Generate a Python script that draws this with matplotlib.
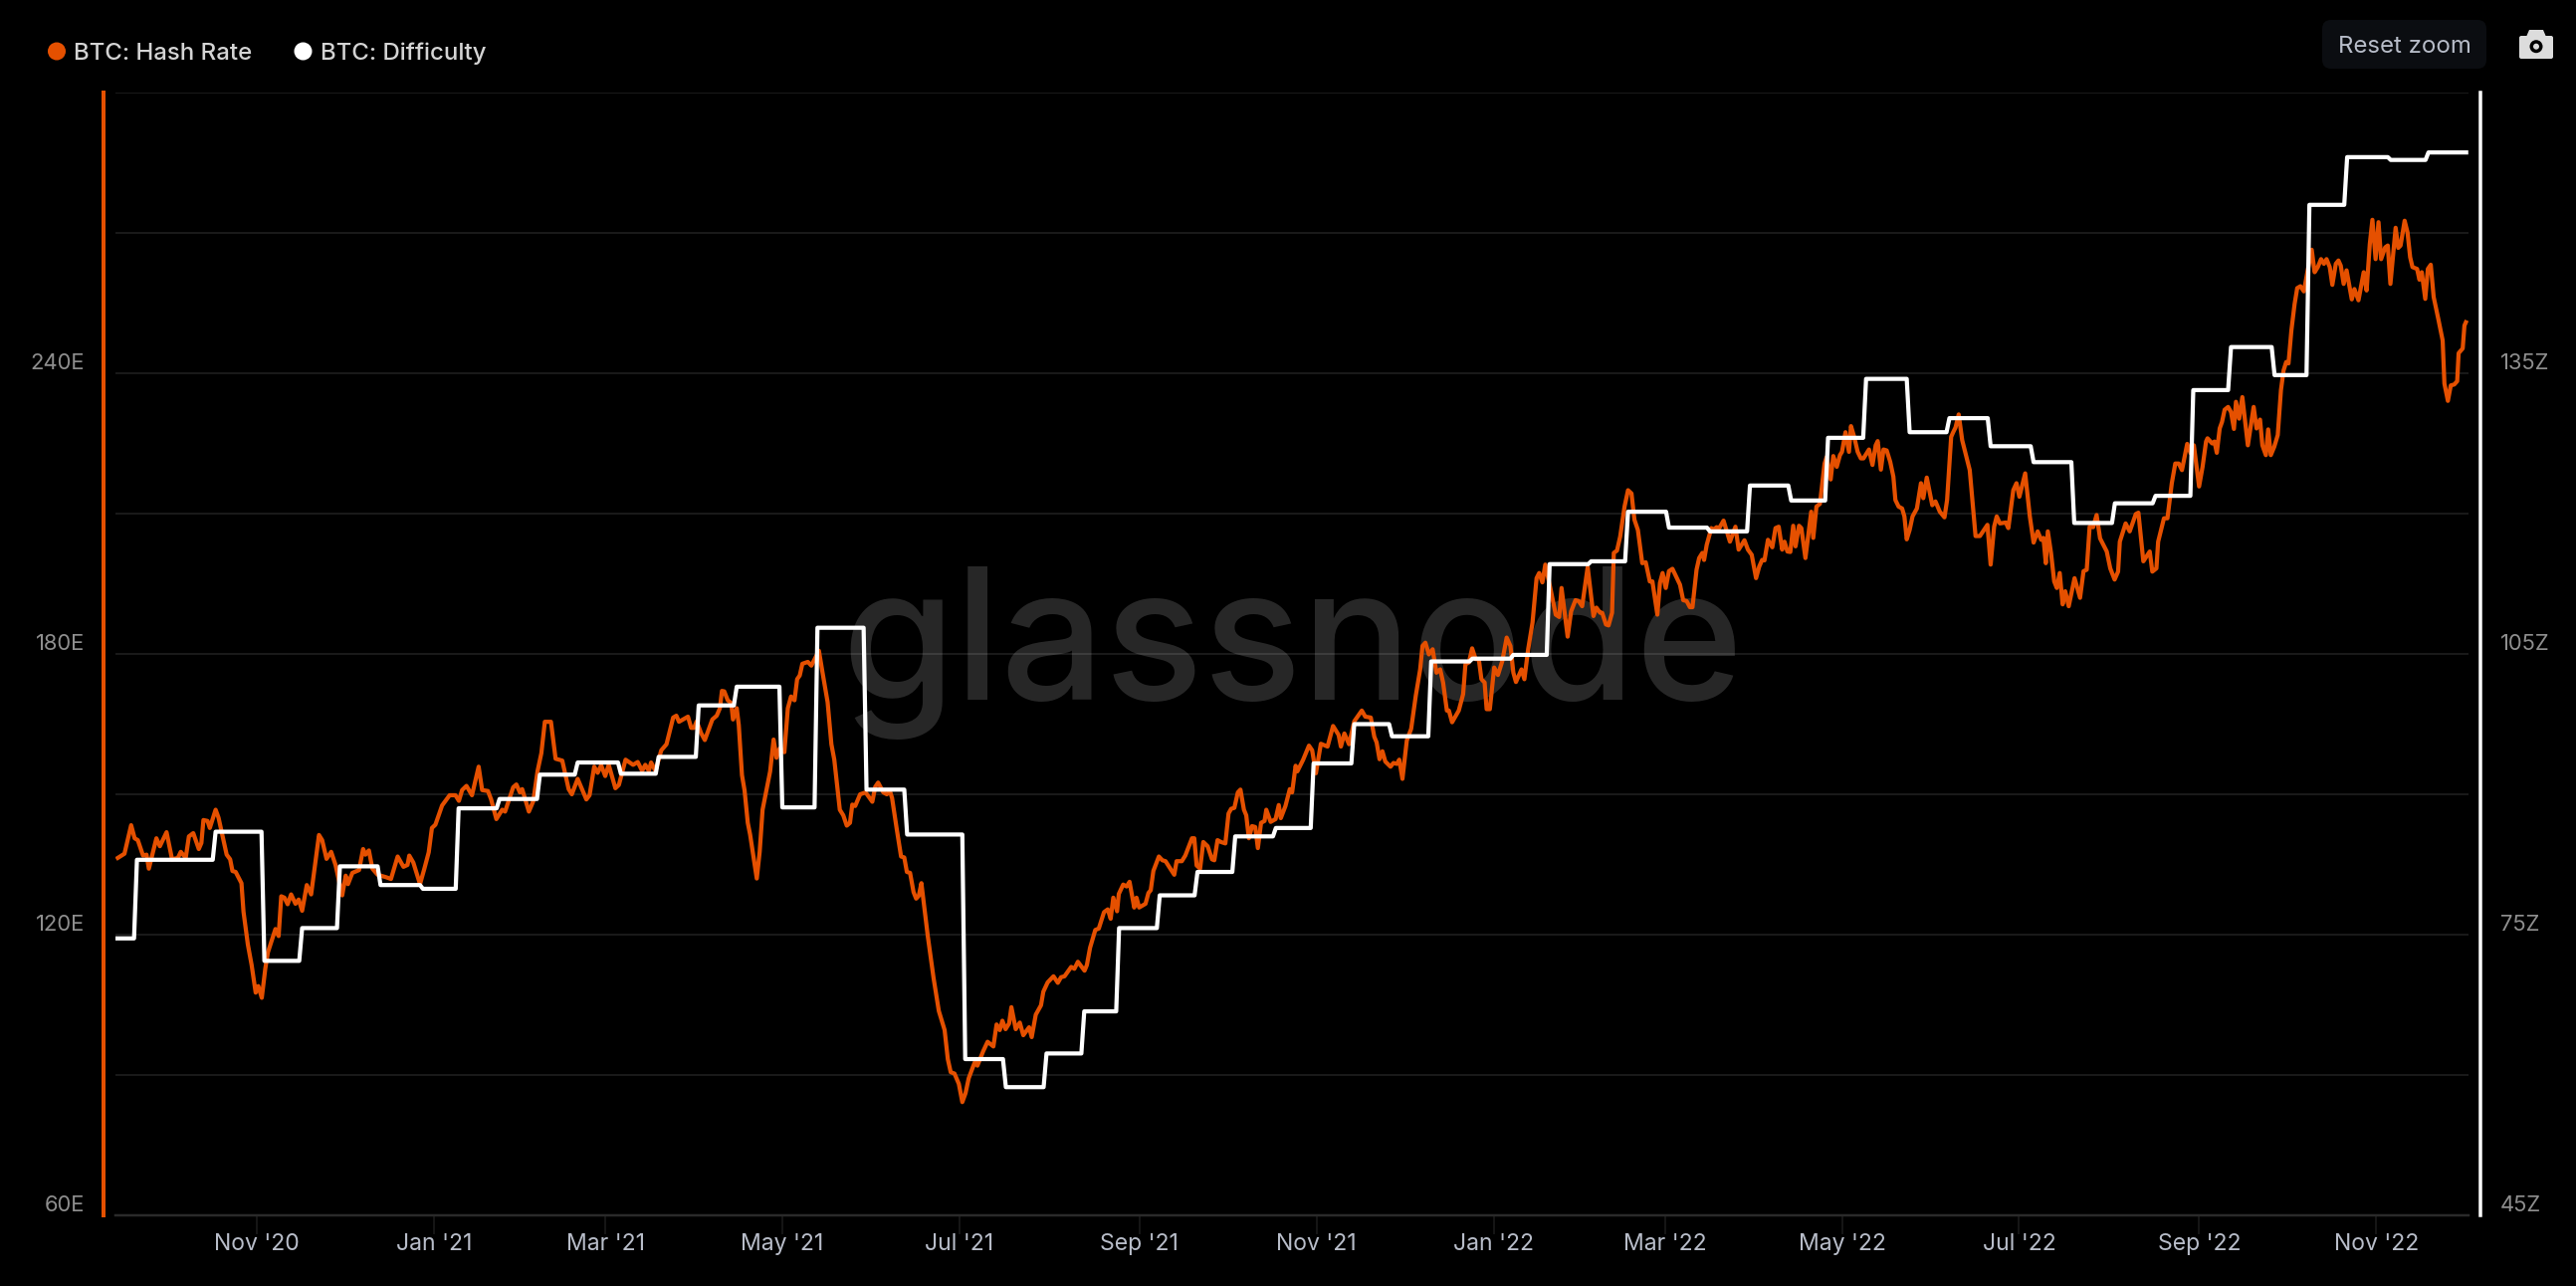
import matplotlib
matplotlib.use('Agg')
import matplotlib.pyplot as plt
import matplotlib.dates as mdates
from matplotlib.patches import Circle, FancyBboxPatch, Polygon
import pandas as pd

plt.rcParams['font.family'] = ['Inter', 'DejaVu Sans']

START = pd.Timestamp('2020-09-14')

# Hash rate, days since START and exahash
hash_days = [
    0.1, 2.4, 4.7, 5.9, 7, 8.8, 10, 10.8, 13.4, 14.6, 16.9, 18.8, 20.8, 21.8, 23.5, 24.6, 26.1, 28, 28.9, 29.6,
    31, 31.8, 33.8, 34.8, 37.6, 38.8, 39.6, 40.7, 42.7, 43.4, 44.9, 46.2, 47.6, 48.5, 49.7, 50.9, 51.8, 54.4, 55.5, 56.4,
    57.5, 58.6, 59.8, 61.3, 62.4, 63.6, 65.2, 66.7, 69.4, 70.5, 72, 73.6, 75.1, 77.4, 78.6, 79.4, 80.9, 83.2, 84.6, 85.4,
    86.6, 87.8, 89.6, 92.4, 94.2, 96.5, 98.5, 99.9, 100.5, 101.9, 104.2, 105.7, 107.2, 108.3, 109.5, 111.8, 114.4, 116.4, 117.6, 118.7,
    120.2, 122.1, 124.4, 125.6, 127.6, 128.7, 130.5, 132.5, 133.5, 136.3, 137.4, 138.6, 139.4, 141.7, 143.2, 144.7, 146, 147.2, 149.3, 150.9,
    153.2, 155.4, 156.5, 158.5, 161.5, 162.6, 164.2, 165.4, 166.6, 168, 169.2, 171.5, 172.7, 175, 177.6, 179.2, 180.7, 181.8, 183, 183.8,
    185.3, 187.3, 189.1, 191.4, 192.5, 193.4, 196.5, 197.6, 198.6,
    199.5, 201, 202.3, 204.9, 206.4, 207.5, 208.2, 209, 210.2, 211.4, 212, 213.3, 214, 215.1, 216, 217.1, 217.9, 220.2, 221.2, 222.2,
    224.8, 226, 227, 228.1, 229.7, 230.9, 232, 233.2, 234.1, 235, 235.9, 237.8, 239, 241.6, 242.8, 244.6, 245.9, 246.9, 248.8, 250,
    251.2, 252.3, 253.1, 254.1, 255.8, 257.7, 260, 261, 262, 263.8, 265, 266, 266.8, 268.4, 269.9, 271, 271.9, 273, 274.2, 275.1,
    276, 276.9, 279.1, 281.1, 282.9, 284.9, 286, 287, 288.3, 289.8, 291, 292.1, 293.2, 294.7, 295.5, 296.2, 298.2, 299.7, 301.7, 302.8,
    303.9, 304.8, 305.9, 307.1, 307.9, 309.4, 310.8, 312, 314, 314.9, 316.3, 318.1, 318.9, 320.4, 322.4, 323.9, 325, 326.2, 328.5, 329.6,
    330.8, 333.1, 333.9, 335, 336.8, 338, 339.8, 341.1, 342.1, 343, 344.3, 344.9, 346.4, 347.6, 348.6, 350.2, 351, 351.9, 354.1, 355.1,
    355.9, 356.8, 358.7, 359.9, 361, 364, 364.8, 366.6, 367.8, 370.1, 370.9, 371.7, 372.9, 374, 375.5, 377, 377.8, 378.9, 380.1, 381.6,
    382.7, 383.6, 384.7, 385.9, 386.8, 388, 388.8, 389.7, 390.8, 391.9, 392.8, 393.9, 395.1, 395.7, 397.2, 398.9, 400, 400.7, 402.3, 403.8,
    404.6, 405.8, 406.4, 408.4, 410.4, 411.5, 412.8, 414.5, 416.8, 418.7, 420.6, 421.4, 422.6, 424.2, 426, 428.6, 429.8, 431.7, 432.9, 433.7,
    434.7, 435.7, 436.7, 438.5,
    439.5, 440.7, 441.5, 442.6, 444.1, 445.6, 447.2, 448.7, 449.5, 450.5, 451.7, 453, 454.3, 455.6, 456.6, 457.9, 458.6, 459.7, 462, 463.5,
    464.3, 465.5, 466.6, 467.8, 468.9, 469.8, 470.9, 471.6, 472.7, 474.2, 475.5, 477, 478.5, 479.8, 480.8, 481.7, 483.6, 484.6, 485.9, 487.4,
    488.8, 489.7, 490.8, 491.8, 493.4, 495.4, 496.6, 497.4, 499.5, 500.7, 502.2, 503.3, 504.5, 506.4, 508.4, 509.4, 510.7, 511.4, 512.7, 513.6,
    514.8, 515.4, 516.5, 517.6, 519.1, 520.3, 521.5, 522.5, 523.7, 525.2, 526.4, 527.8, 528.7, 530.4, 531.3, 532.2, 533.3, 534.4, 535.6, 538.2,
    539.3, 540.5, 541.6, 542.5, 543.9, 544.8, 545.9, 546.5, 547.4, 549, 549.7, 550.8, 551.7, 553.2, 555.4, 557.3, 558.4, 560.4, 561.6, 562.9,
    564.4, 565.5, 566.5, 567.3, 568.5, 570, 571.1, 572.2, 573.4, 574.2, 575.2, 576.2, 577.2, 578, 579.2, 580, 581.4, 583.4, 584.1, 585.2,
    586.4, 588, 588.7, 590.1, 591, 592.2, 593.3, 594, 595.2, 596.4, 597.1, 598.2, 599.4, 600.5, 601.4, 603.3, 604.5, 605.6, 606.3, 607.4,
    608.3, 609.4, 610.6, 611.7, 612.4, 613.5, 614.7, 615.5, 616.3, 617.3, 618.3, 619.8, 621.2, 622, 623.2, 625.1, 626.2, 627.7, 629.3, 630.2,
    631.6, 632.3, 633.1, 634.2, 635.4, 638, 640, 641.5, 644.1, 645.2, 646.4, 647.3, 648.4, 650.4, 651.3, 653, 654.1, 655.1, 657.1, 658.7,
    660, 661.4, 662.6, 663.4, 664.2, 664.9, 666, 667.1, 668, 669, 670, 670.9, 672.1, 674.1, 676, 677.2, 678.3, 679.3,
    680.5, 681.7, 682.9, 685.2, 686.4, 687.9, 689.1, 689.7, 691.7, 693.1, 695.2, 696.1, 697.8, 700, 700.9, 702.3, 702.9, 704.9, 706.1, 707.6,
    708.8, 710, 711.1, 712.9, 714.1, 715.2, 717, 718.2, 719.4, 719.9, 721.5, 722.3, 723.1, 724.1, 724.9, 725.8, 727, 728, 729, 729.7,
    730.8, 731.9, 733.8, 735.8, 736.8, 738, 738.8, 740, 740.8, 741.7, 742.9, 744.1, 745.2, 746.1, 747, 747.8, 748.8, 749.9, 750.8, 751.9,
    753.1, 754.4, 755.8, 756.8, 757.9, 759, 760, 760.9, 762, 762.9, 764.1, 765, 765.8, 766.8, 767.8, 769.6, 770.5, 771.9, 773.7, 774.7,
    775.8, 776.7, 777.8, 778.8, 779.7, 781.1, 782, 782.9, 784.7, 785.6, 786.4, 787.8, 788.8, 789.7, 790.5, 792.1, 792.9, 793.7, 794.9, 795.8,
    796.8, 797.8, 799.4, 800.9, 801.5, 802.7, 803.7, 804.9, 805.9, 806.4, 807.8, 808.4, 808.9,
]
hash_values = [
    136.4, 137.3, 143.4, 140.6, 140.2, 136.9, 137.1, 134.1, 140.6, 138.9, 141.9, 136.1, 136.4, 137.7, 136.4, 141, 141.7, 138.3, 139.6, 144.5,
    144.3, 142.8, 146.7, 145, 137.1, 136.1, 133.6, 133.4, 131, 124.9, 117.9, 113.5, 107.6, 109, 106.5, 112.7, 116.2, 121.2, 119.7, 128.2,
    127.9, 126.5, 128.6, 126.6, 127.5, 125.1, 130.6, 128.6, 141.3, 140.2, 136.2, 137.7, 134.9, 128.4, 132.6, 130.8, 133.2, 133.8, 138.3, 137.1,
    138, 134.1, 132.8, 132.3, 131.9, 136.7, 134.5, 134.9, 136.9, 135.4, 130.8, 134.1, 137.6, 142.8, 143.5, 147.6, 149.8, 149.8, 148.6, 150.9,
    151.8, 149.8, 155.9, 150.9, 150.7, 148.9, 144.7, 146.7, 146.3, 151.5, 152.1, 150.4, 151.1, 146.3, 148.5, 155, 158.8, 165.5, 165.5, 157.6,
    157.2, 151.1, 150, 153.3, 148.9, 149.8, 155.9, 154.6, 156.2, 153.9, 156.3, 151.3, 152, 157.4, 156.3, 156.9, 155, 156.3, 155, 156.8,
    155, 159.4, 160.7, 166.4, 166.8, 165.5, 166.6, 164.2, 164.2,
    165.6, 163.1, 161.6, 166, 166.8, 168.4, 172.1, 172, 170.1, 169.5, 166, 168.4, 164.8, 154.1, 150.8, 143.9, 141.4, 132, 137.7, 146.7,
    154.9, 161.7, 157.8, 159.8, 159, 168.4, 170.9, 170.1, 174.6, 175.4, 177.9, 178.3, 177.5, 180.7, 176.2, 169.7, 160.7, 157.4, 146.7, 145.5,
    143.3, 143.9, 147.8, 147.5, 150, 150.4, 148.4, 151.6, 152.5, 150.4, 150, 150.8, 149.2, 142.6, 136.7, 136.5, 133.4, 133.2, 129.1, 127.7,
    128.3, 131, 119.7, 110.7, 103.7, 99.6, 93.4, 90.6, 90.3, 88.1, 84.2, 86.1, 89.3, 91.8, 93, 92, 95.1, 97.1, 96.1, 100.8,
    99.6, 101.6, 99.8, 101, 104.5, 99.8, 101.2, 98.5, 100.2, 98.1, 102.9, 104.9, 107.8, 109.8, 111.1, 109.7, 110.9, 111.1, 113.1, 112.7,
    114.2, 112.3, 113.5, 117.2, 121, 121.3, 124.8, 125.4, 123.4, 127.9, 125, 128.7, 130.7, 130.3, 131.3, 125.8, 127.9, 125.8, 126.6, 128.9,
    129.5, 133.6, 136.7, 135.9, 135.7, 132.8, 135.7, 135.7, 136.9, 140.6, 140.6, 134.8, 134.1, 139.8, 138.9, 136.1, 135.9, 140.2, 139.8, 139.5,
    145.9, 146.9, 147.1, 150.4, 151, 146.7, 145.5, 140.6, 143.2, 143, 138.5, 143.9, 144.3, 146.7, 144.1, 144.7, 147.7, 144.9, 147.5, 151.1,
    150.4, 156.1, 154.9, 157.4, 160.4, 159.4, 154.5, 160.8, 160.2, 164.6, 162.7, 160.2, 163, 160.7, 165.6, 167.9, 166.6, 166.4, 162.3, 161.1,
    157.5, 159.2, 157, 155.9,
    156.7, 156.5, 157.4, 153.3, 161.5, 164, 171.1, 176.7, 181.7, 182.4, 179.9, 181, 176, 176.7, 173.9, 167.9, 167.9, 165.4, 167.9, 171.4,
    177.8, 178.2, 181.2, 178.9, 178.9, 174.6, 173.9, 168.2, 168.2, 177.1, 175.5, 178.5, 183.5, 181.7, 176, 174, 176.7, 174.6, 181, 186.7,
    196.2, 197.3, 195.3, 199.1, 194.5, 188.4, 187.9, 194.1, 183.7, 189.1, 191.5, 191.3, 190.2, 198.6, 188.1, 189.9, 188.8, 188.8, 186.3, 186.1,
    188.8, 201.6, 202.1, 205.1, 211.5, 215, 214.3, 208.7, 206.5, 199.4, 199.6, 195.5, 195.5, 188.4, 195.2, 197.3, 194.1, 197.7, 198.2, 194.8,
    191.5, 191.3, 190, 190, 198, 200.5, 201.6, 200.1, 203.3, 206.9, 206.5, 207.1, 206.9, 208.5, 204, 207.2, 202.3, 204.3, 202.3, 201.2,
    196.2, 198.7, 200.1, 200, 204.4, 202.8, 206.9, 207.2, 202.3, 204, 201.9, 201.8, 207.4, 203, 207.4, 206.9, 200.5, 210.4, 204.8, 211.5,
    212.1, 220.7, 222.1, 217.3, 222.3, 220, 222.5, 223.2, 227.4, 223.2, 228.7, 226.4, 223.2, 221.8, 221.8, 223.7, 220.4, 224.6, 225.5, 219.4,
    223.7, 223.5, 221.1, 217.9, 212.9, 211.5, 211.1, 209.4, 204.5, 206.5, 209.4, 211.1, 216.5, 213.3, 217.7, 211.8, 212.6, 210.4, 209.2, 212.9,
    226.4, 227.4, 228.4, 231.2, 225.7, 219.3, 205.2, 205.2, 207.6, 199.1, 207.2, 209.4, 207.9, 208.1, 206.9, 215, 216.5, 213.6, 218.6, 209.4,
    203.8, 206.2, 204.4, 204.8, 199.4, 206.2, 201.6, 195.5, 194.1, 197.3, 190.6, 193.4, 190.2, 196.2, 192, 197.7, 198, 207.2,
    207.1, 209.7, 204.7, 201.9, 198.3, 195.9, 197.6, 204, 207.9, 206.2, 209.9, 210.2, 199.8, 201.9, 197.6, 198.3, 204, 209, 209, 216.5,
    220.7, 220.7, 219.3, 224.9, 222.9, 224.6, 215.8, 220, 225.4, 226.1, 225, 225.4, 223, 228.2, 229.6, 232.2, 232.8, 231.7, 228.1, 233.9,
    230.3, 234.9, 224.6, 232.8, 228.2, 230.1, 224.6, 222.5, 228, 222.5, 224.3, 226.8, 236.4, 240.6, 242.4, 242.1, 249.2, 254.8, 258.2, 258.6,
    257.5, 262, 266.4, 261.6, 262.7, 264.4, 263.4, 264.4, 262.7, 258.9, 263.4, 264.1, 263, 259.1, 262, 255.8, 258, 255.6, 261.6, 257.7,
    267.6, 272.8, 264.4, 272.3, 264.4, 266.9, 267.3, 259.1, 271.1, 266.8, 267.3, 272.6, 270.1, 264.8, 262.7, 262.3, 260, 261.6, 255.9, 262.3,
    263.2, 256.3, 251.6, 247, 237.8, 234.1, 237.4, 237.6, 238.3, 244.3, 245.3, 250.2, 250.9,
]

# Difficulty, day each level starts and its level in zetta
diff_days = [
    0, 6.7, 33.8, 50.6, 63.6, 76.6, 90.6, 105.2, 117.5, 131.6, 145.5, 158.5, 173.4, 186.4, 200.2, 213.3, 229, 241.1, 258, 272,
    292, 306, 320, 333, 345, 359, 372, 385, 399, 412, 426, 439, 452.5, 466.7, 480.8, 493.3, 507.6, 520.3, 534.4, 548.5,
    562.3, 576.5, 589.2, 602.3, 617.3, 631, 645.2, 660, 674, 688, 702, 715, 728, 743, 755, 768, 783, 796,
]
diff_levels = [
    74.6, 83, 86, 72.2, 75.7, 82.3, 80.3, 79.9, 88.5, 89.5, 92.1, 93.4, 92.2, 94, 99.5, 101.5, 88.6, 107.8, 90.5, 85.7,
    61.7, 58.7, 62.3, 66.8, 75.7, 79.2, 81.7, 85.5, 86.4, 93.3, 97.5, 96.2, 104.2, 104.5, 104.9, 114.6, 114.9, 120.2, 118.5, 118.1,
    123, 121.4, 128.1, 134.4, 128.7, 130.2, 127.2, 125.5, 119, 121.1, 121.9, 133.2, 137.8, 134.8, 153, 158.1, 157.8, 158.6,
]
diff_end_day = 809

left_ticks = [60, 120, 180, 240]
left_labels = ['60E', '120E', '180E', '240E']
right_ticks = [45, 75, 105, 135]
right_labels = ['45Z', '75Z', '105Z', '135Z']
grid_levels = [60, 90, 120, 150, 180, 210, 240, 270, 300]

ORANGE = '#e55000'
W, H = 2588, 1292
DPI = 100
PX = 72 / DPI  # one pixel in points

# expand difficulty levels into a stepped line with one day ramps
step_days, step_values = [], []
for i, level in enumerate(diff_levels):
    end = diff_days[i + 1] - 1 if i + 1 < len(diff_days) else diff_end_day
    step_days += [diff_days[i], end]
    step_values += [level, level]

hash_dates = START + pd.to_timedelta(hash_days, unit='D')
step_dates = START + pd.to_timedelta(step_days, unit='D')

fig = plt.figure(figsize=(W / DPI, H / DPI), dpi=DPI, facecolor='black')

# plot area in pixels: x 116-2480, y 93-1221
ax = fig.add_axes([116 / W, 1 - 1221 / H, (2480 - 116) / W, (1221 - 93) / H], facecolor='black')
ax.set_xlim(START - pd.Timedelta(days=0.7), START + pd.Timedelta(days=809.8))
ax.set_ylim(60, 300)
ax.set_yticks(grid_levels)
ax.set_yticklabels([])
ax.grid(axis='y', color='#1c1c1c', linewidth=1.8 * PX)
ax.set_axisbelow(True)
ax.tick_params(axis='y', length=0)

ax.xaxis.set_major_locator(mdates.MonthLocator(bymonth=[1, 3, 5, 7, 9, 11]))
ax.xaxis.set_major_formatter(mdates.DateFormatter("%b '%y"))
ax.tick_params(axis='x', length=19 * PX, width=1.5 * PX, color='#1c1c1c', labelcolor='#b8bdc9',
               labelsize=23 * PX, pad=-1)

for s in ['top', 'right', 'bottom']:
    ax.spines[s].set_visible(False)
ax.spines['left'].set_position(('outward', 12 * PX))
ax.spines['left'].set_color(ORANGE)
ax.spines['left'].set_linewidth(4 * PX)

ax.axhline(60, color='#2a2a2a', linewidth=2.5 * PX, zorder=1, clip_on=False)

# watermark under the lines but over the grid
ax.text(1299 / W, 1 - 703 / H, 'glassnode', transform=fig.transFigure, color='white', alpha=0.155,
        fontsize=184 * PX, fontweight='medium', ha='center', va='baseline', zorder=2)

ax2 = ax.twinx()
ax2.set_ylim(45, 165)
ax2.set_yticks([])
ax2.patch.set_visible(False)
for s in ['top', 'left', 'bottom']:
    ax2.spines[s].set_visible(False)
ax2.spines['right'].set_position(('outward', 12 * PX))
ax2.spines['right'].set_color('white')
ax2.spines['right'].set_linewidth(3.5 * PX)

ax.plot(hash_dates, hash_values, color=ORANGE, linewidth=4.2 * PX, solid_joinstyle='round', zorder=3)
ax2.plot(step_dates, step_values, color='white', linewidth=4.2 * PX, solid_joinstyle='round', zorder=4)

# axis labels sit a little above their grid line
for val, lab in zip(left_ticks, left_labels):
    ax.annotate(lab, xy=(0, val), xycoords=('axes fraction', 'data'), xytext=(-31 * PX, 10 * PX),
                textcoords='offset points', ha='right', va='center', color='#8e8e8e', fontsize=22 * PX)
for val, lab in zip(right_ticks, right_labels):
    ax2.annotate(lab, xy=(1, val), xycoords=('axes fraction', 'data'), xytext=(32 * PX, 10 * PX),
                 textcoords='offset points', ha='left', va='center', color='#8e8e8e', fontsize=22 * PX)

# legend, button and camera icon, in pixel coordinates
top = fig.add_axes([0, 0, 1, 1], facecolor='none')
top.set_xlim(0, W)
top.set_ylim(H, 0)
top.axis('off')

top.add_patch(Circle((57, 51.5), 9, color=ORANGE, linewidth=0))
top.add_patch(Circle((304.5, 51.5), 9, color='white', linewidth=0))
top.text(74, 51.5, 'BTC: Hash Rate', color='#d4d4d4', fontsize=24 * PX, fontweight='medium', va='center_baseline')
top.text(322, 51.5, 'BTC: Difficulty', color='#d4d4d4', fontsize=24 * PX, fontweight='medium', va='center_baseline')

top.add_patch(FancyBboxPatch((2333, 20), 165, 49, boxstyle='round,pad=0,rounding_size=9', linewidth=0, facecolor='#0b0d11'))
top.text(2415.5, 44.5, 'Reset zoom', color='#b8bdc9', fontsize=24 * PX, ha='center', va='center_baseline')

top.add_patch(FancyBboxPatch((2531, 36), 34, 23, boxstyle='round,pad=0,rounding_size=2', linewidth=0, facecolor='#dcdcdc'))
top.add_patch(Polygon([(2538, 37), (2541, 30), (2555, 30), (2558, 37)], closed=True, linewidth=0, facecolor='#dcdcdc'))
top.add_patch(Circle((2548, 46.7), 6.5, color='black', linewidth=0))
top.add_patch(Circle((2548, 46.7), 3, color='#dcdcdc', linewidth=0))

fig.savefig('out.png', dpi=DPI, facecolor='black')
